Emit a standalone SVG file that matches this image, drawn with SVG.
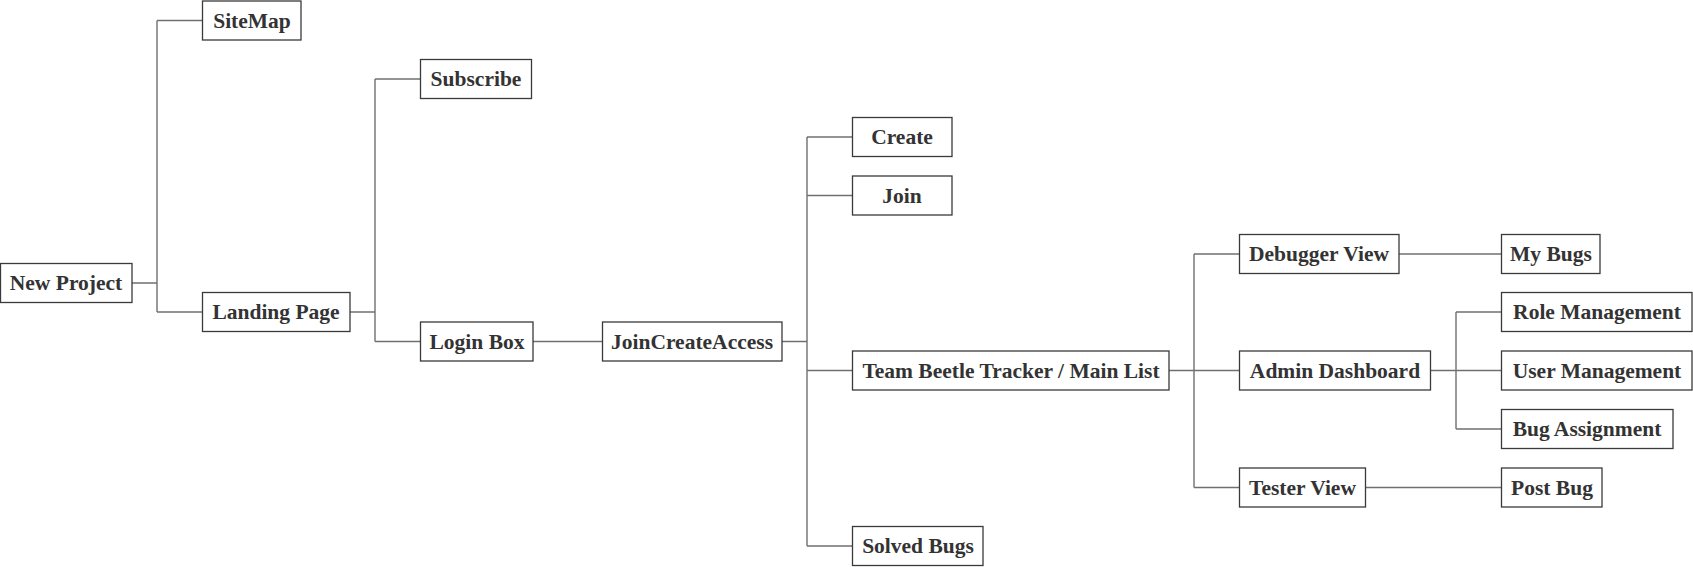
<svg xmlns="http://www.w3.org/2000/svg" width="1693" height="567" viewBox="0 0 1693 567">
<style>
.box{fill:#fff;stroke:#3a3a3a;stroke-width:1.3}
.lbl{font-family:"Liberation Serif","Times New Roman",serif;font-weight:bold;font-size:21.5px;fill:#333;text-anchor:middle}
.con{fill:none;stroke:#707070;stroke-width:1.4}
</style>
<rect width="1693" height="567" fill="#fff"/>
<g id="connectors">
<path class="con" d="M132 283H157M157 20.5V312M157 20.5H202.5M157 312H202.5"/>
<path class="con" d="M350 312H375M375 79V341.5M375 79H420.5M375 341.5H420.5"/>
<path class="con" d="M533 341.5H602.5"/>
<path class="con" d="M782 341.5H807M807 137V546M807 137H852.5M807 195.5H852.5M807 370.5H852.5M807 546H852.5"/>
<path class="con" d="M1169 370.5H1194M1194 254V487.5M1194 254H1239.5M1194 370.5H1239.5M1194 487.5H1239.5"/>
<path class="con" d="M1399 254H1501.5"/>
<path class="con" d="M1430.5 370.5H1456M1456 312V429M1456 312H1501.5M1456 370.5H1501.5M1456 429H1501.5"/>
<path class="con" d="M1365.5 487.5H1501.5"/>
</g>
<g id="new-project"><rect class="box" x="0.5" y="263.5" width="131.5" height="39"/><text class="lbl" x="66" y="290">New Project</text></g>
<g id="sitemap"><rect class="box" x="202.5" y="1" width="98.5" height="39"/><text class="lbl" x="252" y="27.5">SiteMap</text></g>
<g id="landing-page"><rect class="box" x="202.5" y="292.5" width="147.5" height="39"/><text class="lbl" x="276" y="319">Landing Page</text></g>
<g id="subscribe"><rect class="box" x="420.5" y="59.5" width="111" height="39"/><text class="lbl" x="476" y="86">Subscribe</text></g>
<g id="login-box"><rect class="box" x="420.5" y="322" width="112.5" height="39"/><text class="lbl" x="477" y="348.5">Login Box</text></g>
<g id="join-create-access"><rect class="box" x="602.5" y="322" width="179.5" height="39"/><text class="lbl" x="692" y="348.5">JoinCreateAccess</text></g>
<g id="create"><rect class="box" x="852.5" y="117.5" width="99.5" height="39"/><text class="lbl" x="902" y="144">Create</text></g>
<g id="join"><rect class="box" x="852.5" y="176" width="99.5" height="39"/><text class="lbl" x="902" y="202.5">Join</text></g>
<g id="main-list"><rect class="box" x="852.5" y="351" width="316.5" height="39"/><text class="lbl" x="1011" y="377.5">Team Beetle Tracker / Main List</text></g>
<g id="solved-bugs"><rect class="box" x="852.5" y="526.5" width="130.5" height="39"/><text class="lbl" x="918" y="553">Solved Bugs</text></g>
<g id="debugger-view"><rect class="box" x="1239.5" y="234.5" width="159.5" height="39"/><text class="lbl" x="1319" y="261">Debugger View</text></g>
<g id="admin-dashboard"><rect class="box" x="1239.5" y="351" width="191" height="39"/><text class="lbl" x="1335" y="377.5">Admin Dashboard</text></g>
<g id="tester-view"><rect class="box" x="1239.5" y="468" width="126" height="39"/><text class="lbl" x="1302.5" y="494.5">Tester View</text></g>
<g id="my-bugs"><rect class="box" x="1501.5" y="234.5" width="98.5" height="39"/><text class="lbl" x="1551" y="261">My Bugs</text></g>
<g id="role-management"><rect class="box" x="1501.5" y="292.5" width="190.5" height="39"/><text class="lbl" x="1597" y="319">Role Management</text></g>
<g id="user-management"><rect class="box" x="1501.5" y="351" width="190.5" height="39"/><text class="lbl" x="1597" y="377.5">User Management</text></g>
<g id="bug-assignment"><rect class="box" x="1501.5" y="409.5" width="171.5" height="39"/><text class="lbl" x="1587" y="436">Bug Assignment</text></g>
<g id="post-bug"><rect class="box" x="1501.5" y="468" width="100.5" height="39"/><text class="lbl" x="1552" y="494.5">Post Bug</text></g>
</svg>
